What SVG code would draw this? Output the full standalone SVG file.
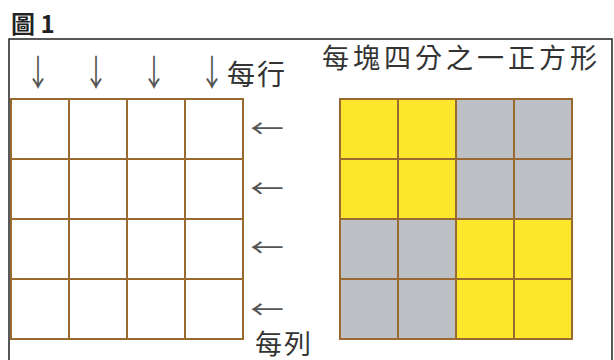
<svg xmlns="http://www.w3.org/2000/svg" width="614" height="360" viewBox="0 0 614 360">
<style>
.t{font-family:"Noto Sans CJK TC","Noto Sans CJK SC",sans-serif;fill:#333}
.ar{font-family:"Noto Sans CJK TC","Noto Sans CJK SC",sans-serif;fill:#555;font-size:30px;text-anchor:middle}
.g{stroke:#9A6A30;stroke-width:2;fill:none}
.y{fill:#FCE72C}
.s{fill:#BDC1C6}
</style>
<rect width="614" height="360" fill="#fff"/>
<text x="11" y="33" font-size="24" font-weight="bold" font-family="'Noto Sans CJK TC','Noto Sans CJK SC',sans-serif" fill="#222">圖 1</text>
<path d="M9,360 V39 H612 V360" fill="none" stroke="#222" stroke-width="1.5"/>
<g id="left-grid">
<rect x="11" y="99" width="232" height="240" fill="#fff"/>
<path class="g" d="M11,99 H243 V339 H11 Z M69,99 V339 M127,99 V339 M185,99 V339 M11,159 H243 M11,219 H243 M11,279 H243"/>
</g>
<g id="right-grid">
<rect class="y" x="340" y="99" width="116" height="120"/>
<rect class="s" x="456" y="99" width="116" height="120"/>
<rect class="s" x="340" y="219" width="116" height="120"/>
<rect class="y" x="456" y="219" width="116" height="120"/>
<path class="g" d="M340,99 H572 V339 H340 Z M398,99 V339 M456,99 V339 M514,99 V339 M340,159 H572 M340,219 H572 M340,279 H572"/>
</g>
<g id="connectors">
<text class="ar" transform="translate(38,85.5) scale(0.8,1.2)">↓</text>
<text class="ar" transform="translate(96,85.5) scale(0.8,1.2)">↓</text>
<text class="ar" transform="translate(154,85.5) scale(0.8,1.2)">↓</text>
<text class="ar" transform="translate(212,85.5) scale(0.8,1.2)">↓</text>
<text class="ar" transform="translate(267,137.5) scale(1.12,0.85)">←</text>
<text class="ar" transform="translate(267,197.5) scale(1.12,0.85)">←</text>
<text class="ar" transform="translate(267,256.5) scale(1.12,0.85)">←</text>
<text class="ar" transform="translate(267,318.5) scale(1.12,0.85)">←</text>
</g>
<text class="t" x="227" y="85" font-size="28" letter-spacing="2">每行</text>
<text class="t" x="322" y="68" font-size="27" letter-spacing="4">每塊四分之一正方形</text>
<text class="t" x="255" y="354" font-size="27" letter-spacing="2">每列</text>
</svg>
